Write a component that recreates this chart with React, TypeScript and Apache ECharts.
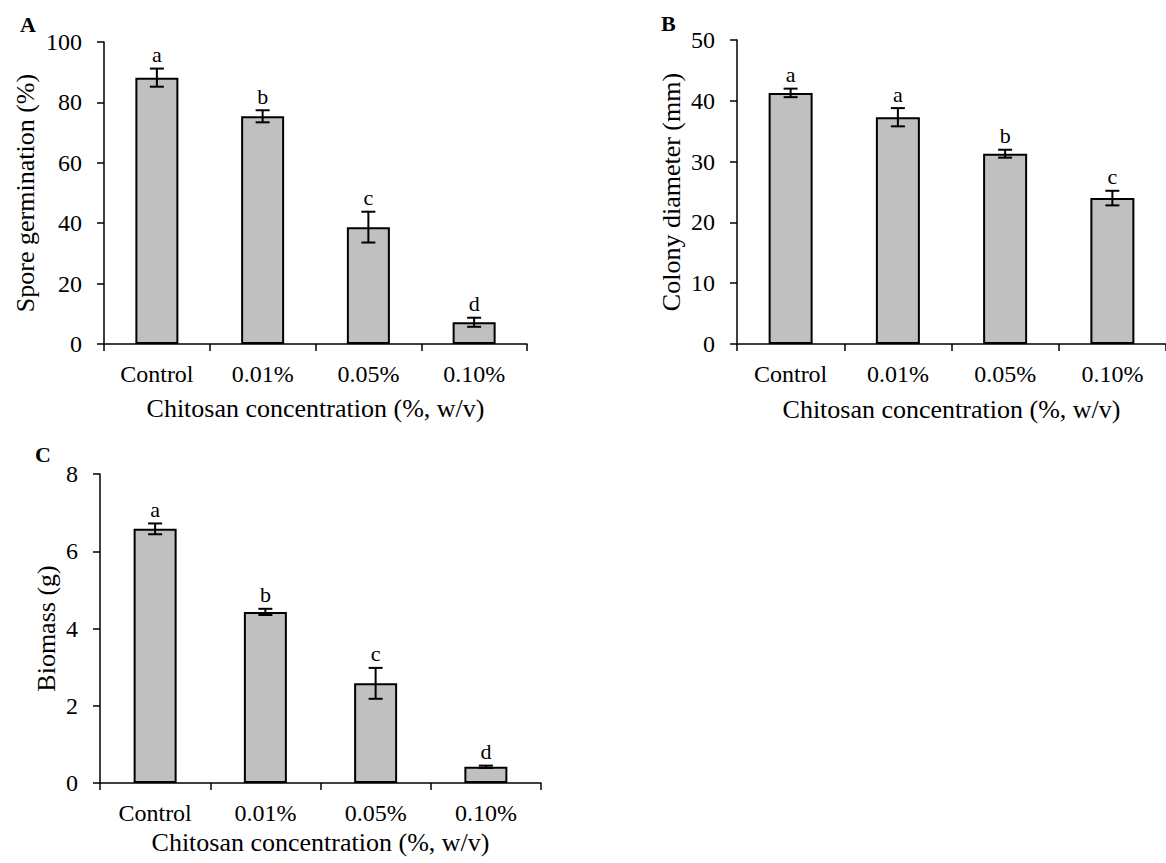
import React, { useEffect, useRef } from "react";
import * as echarts from "echarts";

const categories = ["Control", "0.01%", "0.05%", "0.10%"];

const sporeValues = [88.2, 75.4, 38.7, 7.2];
const sporeErrors = [3.0, 2.0, 5.1, 1.5];
const sporeLetters = ["a", "b", "c", "d"];

const colonyValues = [41.3, 37.3, 31.3, 24.0];
const colonyErrors = [0.7, 1.5, 0.65, 1.2];
const colonyLetters = ["a", "a", "b", "c"];

const biomassValues = [6.58, 4.43, 2.58, 0.42];
const biomassErrors = [0.14, 0.08, 0.4, 0.03];
const biomassLetters = ["a", "b", "c", "d"];

const FONT = '"Liberation Serif", "Times New Roman", serif';

function xAxisFor(gridIndex: number, nameGap: number) {
  return {
    type: "category",
    gridIndex,
    data: categories,
    boundaryGap: true,
    name: "Chitosan concentration (%, w/v)",
    nameLocation: "middle",
    nameGap,
    nameTextStyle: { fontFamily: FONT, fontSize: 26, color: "#000" },
    axisLine: { show: true, lineStyle: { color: "#000", width: 1.5 } },
    axisTick: { show: true, length: 7, inside: false, lineStyle: { color: "#000", width: 1.5 } },
    axisLabel: { fontFamily: FONT, fontSize: 24, color: "#000", margin: 18 },
    splitLine: { show: false },
  };
}

function yAxisFor(gridIndex: number, name: string, max: number, interval: number, nameGap: number) {
  return {
    type: "value",
    gridIndex,
    min: 0,
    max,
    interval,
    name,
    nameLocation: "middle",
    nameGap,
    nameTextStyle: { fontFamily: FONT, fontSize: 26, color: "#000" },
    axisLine: { show: true, lineStyle: { color: "#000", width: 1.5 } },
    axisTick: { show: true, length: 7, inside: false, lineStyle: { color: "#000", width: 1.5 } },
    axisLabel: { fontFamily: FONT, fontSize: 24, color: "#000", margin: 22 },
    splitLine: { show: false },
  };
}

function barSeries(idx: number, values: number[], barWidth: number) {
  return {
    type: "bar",
    xAxisIndex: idx,
    yAxisIndex: idx,
    data: values,
    barWidth,
    itemStyle: { color: "#c0c0c0", borderColor: "#000", borderWidth: 2 },
    z: 2,
  };
}

function errorSeries(idx: number, values: number[], errors: number[], letters: string[]) {
  return {
    type: "custom",
    xAxisIndex: idx,
    yAxisIndex: idx,
    z: 5,
    data: values.map((v, i) => [i, v, errors[i]]),
    renderItem: (params: any, api: any) => {
      const i = api.value(0);
      const v = api.value(1);
      const e = api.value(2);
      const top = api.coord([i, v + e]);
      const bot = api.coord([i, v - e]);
      const cap = 7;
      const lineStyle = { stroke: "#000", lineWidth: 2 };
      return {
        type: "group",
        children: [
          { type: "line", shape: { x1: top[0], y1: top[1], x2: bot[0], y2: bot[1] }, style: lineStyle },
          { type: "line", shape: { x1: top[0] - cap, y1: top[1], x2: top[0] + cap, y2: top[1] }, style: lineStyle },
          { type: "line", shape: { x1: bot[0] - cap, y1: bot[1], x2: bot[0] + cap, y2: bot[1] }, style: lineStyle },
          {
            type: "text",
            x: top[0],
            y: top[1] - 3,
            style: {
              text: letters[params.dataIndex],
              fontFamily: FONT,
              fontSize: 22,
              fill: "#000",
              align: "center",
              verticalAlign: "bottom",
            },
          },
        ],
      };
    },
  };
}

export default function App() {
  const ref = useRef<HTMLDivElement>(null);

  useEffect(() => {
    if (!ref.current) return;
    const chart = echarts.init(ref.current, undefined, { renderer: "svg" });
    const option: any = {
      animation: false,
      backgroundColor: "#fff",
      grid: [
        { left: 104, top: 42, width: 423, height: 302 },
        { left: 737, top: 40, width: 434, height: 304 },
        { left: 100, top: 474, width: 441, height: 309 },
      ],
      xAxis: [xAxisFor(0, 51), xAxisFor(1, 52), xAxisFor(2, 46)],
      yAxis: [
        yAxisFor(0, "Spore germination (%)", 100, 20, 66),
        yAxisFor(1, "Colony diameter (mm)", 50, 10, 53),
        yAxisFor(2, "Biomass (g)", 8, 2, 41),
      ],
      series: [
        barSeries(0, sporeValues, 43),
        errorSeries(0, sporeValues, sporeErrors, sporeLetters),
        barSeries(1, colonyValues, 44),
        errorSeries(1, colonyValues, colonyErrors, colonyLetters),
        barSeries(2, biomassValues, 43),
        errorSeries(2, biomassValues, biomassErrors, biomassLetters),
      ],
      graphic: [
        { type: "text", left: 20, top: 13, style: { text: "A", fontFamily: FONT, fontSize: 22, fontWeight: "bold", fill: "#000" } },
        { type: "text", left: 661, top: 12, style: { text: "B", fontFamily: FONT, fontSize: 22, fontWeight: "bold", fill: "#000" } },
        { type: "text", left: 35, top: 443, style: { text: "C", fontFamily: FONT, fontSize: 22, fontWeight: "bold", fill: "#000" } },
      ],
    };
    chart.setOption(option);
    return () => chart.dispose();
  }, []);

  return (
    <div
      ref={ref}
      style={{ position: "absolute", left: 0, top: 0, width: 1166, height: 863, background: "#fff" }}
    />
  );
}
